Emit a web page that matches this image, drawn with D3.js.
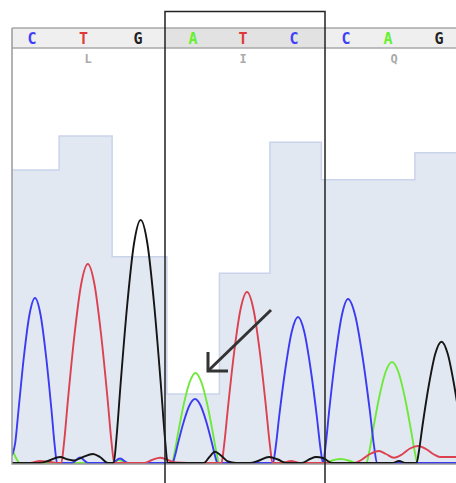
<!DOCTYPE html>
<html>
<head>
<meta charset="utf-8">
<script src="https://cdn.jsdelivr.net/npm/d3@7"></script>
<style>
  body { margin: 0; background: #fff; }
  svg { display: block; }
</style>
</head>
<body>
<svg id="chart" width="456" height="483"></svg>
<script>
// base calls, where they sit on the scan axis, and their quality
const bases = ['C', 'T', 'G', 'A', 'T', 'C', 'C', 'A', 'G']
const basePos = [10, 35.75, 63, 90.5, 115.5, 141, 167, 188, 213.5]
const quality = [42.4, 47.3, 29.9, 10.1, 27.5, 46.4, 41, 41, 44.9]

// translation under the codons
const aminoAcids = ['L', 'I', 'Q']
const aminoPos = [38, 115.5, 191]

// boxed codon (scan range) and the arrow pointing at the mixed peak
const highlight = [76.5, 156.5]
const arrowFrom = [129.5, 612]
const arrowTo = [98, 368]

// trace samples [scan, signal] per channel
const traceT = [
  [0, 0], [9, 0], [14, 8], [19, 4], [24, 0],
  [24.65, 0], [26, 80], [28, 255], [31.3, 517], [34.6, 716], [37.9, 796], [41.2, 716], [44.5, 517], [47.8, 255], [49.8, 80], [51.15, 0],
  [66, 0], [70, 12], [74, 21], [78, 12], [82, 2], [88, 0],
  [104.75, 0], [106, 68], [107.95, 219], [111.1, 445], [114.3, 616], [117.5, 684], [120.7, 616], [123.9, 445], [127.05, 219], [129, 68], [130.25, 0],
  [135, 0], [139.5, 8], [144, 0],
  [171, 0], [175, 14], [179, 36], [183.5, 48], [187, 36], [191, 21], [195, 34], [199, 58], [203, 68], [207, 56], [211, 34], [214, 24], [222, 24]
]
const traceA = [
  [0, 60], [2, 20], [4, 0],
  [50, 0], [53.5, 12], [57, 0],
  [80, 0], [81.15, 36], [82.95, 115], [85.85, 234], [88.85, 324], [91.75, 360], [94.65, 324], [97.65, 234], [100.55, 115], [102.35, 36], [103.5, 0],
  [157, 0], [160, 10], [164.5, 16], [169, 8], [172, 0],
  [177.25, 0], [178.5, 40], [180.45, 129], [183.6, 263], [186.8, 364], [190, 404], [193.2, 364], [196.4, 263], [199.55, 129], [201.5, 40], [202.75, 0],
  [222, 0]
]
const traceC = [
  [0, 30], [1.6, 80], [3.25, 211], [6, 429], [8.75, 594], [11.5, 660], [14.25, 594], [17, 429], [19.75, 211], [21.4, 66], [22.5, 0],
  [30, 0], [34, 22], [38, 0],
  [50, 0], [54, 18], [58, 0],
  [80.25, 0], [81.4, 26], [83.1, 82], [85.9, 166], [88.7, 230], [91.5, 256], [94.3, 230], [97.1, 166], [99.9, 82], [101.6, 26], [102.75, 0],
  [130.5, 0], [131.75, 58], [133.6, 187], [136.75, 380], [139.9, 526], [143, 584], [146.1, 526], [149.25, 380], [152.4, 187], [154.25, 58], [155.5, 0],
  [156.75, 66], [158.6, 210], [161.75, 426], [164.9, 590], [168, 656], [171.6, 590], [175.25, 426], [178.9, 210], [181.05, 66], [182.5, 0],
  [222, 0]
]
const traceG = [
  [0, 0], [14, 0], [18, 8], [24, 24], [28, 14], [31, 10], [35, 22], [40.5, 36], [44, 24], [48, 0],
  [50.85, 0], [52.2, 97], [54.25, 311], [57.6, 632], [60.95, 875], [64.35, 972], [67.75, 875], [71.1, 632], [74.45, 311], [76.5, 97], [77.85, 0],
  [96, 0], [98.5, 22], [101.5, 45], [104.5, 30], [108, 6], [112, 0],
  [119, 0], [123, 8], [128.5, 24], [133, 14], [137, 0],
  [145, 0], [149, 16], [152, 24], [155.5, 20], [160, 0],
  [190, 0], [193.5, 8], [197, 0],
  [202.25, 0], [203.5, 49], [205.35, 155], [208.5, 315], [211.65, 437], [214.75, 485], [217.85, 437], [221, 315], [224.15, 155], [226, 49], [227.25, 0]
]

const colours = { A: '#6ee83a', C: '#3b3bf2', G: '#151515', T: '#dc4150' }
const letterColours = { A: '#66f030', C: '#3f3ff8', G: '#222222', T: '#e03838' }

const width = 456
const height = 483
const margin = { left: 12, right: 0, stripTop: 28, stripHeight: 20, bottom: 464 }
const plotTop = margin.stripTop + margin.stripHeight

const x = d3.scaleLinear()
  .domain([0, 222])
  .range([margin.left, width - margin.right])

const ySignal = d3.scaleLinear()
  .domain([0, 1660])
  .range([margin.bottom - 1, plotTop])

const yQual = d3.scaleLinear()
  .domain([0, 60])
  .range([margin.bottom, plotTop])

const svg = d3.select('#chart')

svg.append('defs').append('clipPath')
  .attr('id', 'plot-clip')
  .append('rect')
  .attr('x', margin.left)
  .attr('y', plotTop)
  .attr('width', width - margin.left)
  .attr('height', margin.bottom - plotTop)

// quality bars as one stepped area, split a little after the midpoint of two calls
const edges = basePos.map((p, i) => i === 0 ? x.domain()[0] : (basePos[i - 1] + p) / 2 + 0.7)
const qualSteps = quality.map((q, i) => [edges[i], q])
qualSteps.push([x.domain()[1], quality[quality.length - 1]])

svg.append('path')
  .datum(qualSteps)
  .attr('fill', '#e2e8f2')
  .attr('d', d3.area()
    .curve(d3.curveStepAfter)
    .x(d => x(d[0]))
    .y0(yQual(0))
    .y1(d => yQual(d[1])))
svg.append('path')
  .datum(qualSteps)
  .attr('fill', 'none')
  .attr('stroke', '#c9d4eb')
  .attr('stroke-width', 1.5)
  .attr('d', d3.line()
    .curve(d3.curveStepAfter)
    .x(d => x(d[0]))
    .y(d => yQual(d[1])))

// traces
const traceLine = d3.line()
  .curve(d3.curveMonotoneX)
  .x(d => x(d[0]))
  .y(d => ySignal(d[1]))

const traces = [['A', traceA], ['C', traceC], ['T', traceT], ['G', traceG]]
svg.append('g')
  .attr('clip-path', 'url(#plot-clip)')
  .selectAll('path')
  .data(traces)
  .enter().append('path')
  .attr('fill', 'none')
  .attr('stroke', d => colours[d[0]])
  .attr('stroke-width', 1.9)
  .attr('stroke-linejoin', 'round')
  .attr('d', d => traceLine(d[1]))

// header strip with base calls
svg.append('rect')
  .attr('x', margin.left)
  .attr('y', margin.stripTop)
  .attr('width', width - margin.left)
  .attr('height', margin.stripHeight)
  .attr('fill', '#efefef')
svg.append('rect')
  .attr('x', x(highlight[0]))
  .attr('y', margin.stripTop)
  .attr('width', x(highlight[1]) - x(highlight[0]))
  .attr('height', margin.stripHeight)
  .attr('fill', '#e2e2e2')
svg.append('g')
  .attr('stroke', '#a8a8a8')
  .attr('stroke-width', 1.5)
  .selectAll('line')
  .data([margin.stripTop, plotTop])
  .enter().append('line')
  .attr('x1', margin.left)
  .attr('x2', width)
  .attr('y1', d => d)
  .attr('y2', d => d)

svg.append('g')
  .attr('font-family', '"DejaVu Sans Mono", monospace')
  .attr('font-weight', 'bold')
  .attr('font-size', 15)
  .attr('text-anchor', 'middle')
  .selectAll('text')
  .data(bases)
  .enter().append('text')
  .text(d => d)
  .attr('x', (d, i) => x(basePos[i]))
  .attr('y', 43.5)
  .attr('fill', d => letterColours[d])

svg.append('g')
  .attr('font-family', '"DejaVu Sans Mono", monospace')
  .attr('font-weight', 'bold')
  .attr('font-size', 12)
  .attr('text-anchor', 'middle')
  .attr('fill', '#aaaaaa')
  .selectAll('text')
  .data(aminoAcids)
  .enter().append('text')
  .text(d => d)
  .attr('x', (d, i) => x(aminoPos[i]))
  .attr('y', 62.5)

// frame: left and bottom edges
svg.append('path')
  .attr('fill', 'none')
  .attr('stroke', '#9a9a9a')
  .attr('stroke-width', 1.5)
  .attr('d', `M${margin.left},${margin.stripTop}V${margin.bottom}H${width}`)

// codon box
svg.append('rect')
  .attr('x', x(highlight[0]))
  .attr('y', 11.5)
  .attr('width', x(highlight[1]) - x(highlight[0]))
  .attr('height', height)
  .attr('fill', 'none')
  .attr('stroke', '#222')
  .attr('stroke-width', 1.5)

// arrow
const tip = [x(arrowTo[0]), ySignal(arrowTo[1])]
svg.append('line')
  .attr('x1', x(arrowFrom[0]))
  .attr('y1', ySignal(arrowFrom[1]))
  .attr('x2', tip[0] + 1)
  .attr('y2', tip[1] - 1)
  .attr('stroke', '#333')
  .attr('stroke-width', 3)
svg.append('path')
  .attr('fill', 'none')
  .attr('stroke', '#333')
  .attr('stroke-width', 3)
  .attr('d', `M${tip[0]},${tip[1] - 19}L${tip[0]},${tip[1]}L${tip[0] + 20},${tip[1]}`)
</script>
</body>
</html>
